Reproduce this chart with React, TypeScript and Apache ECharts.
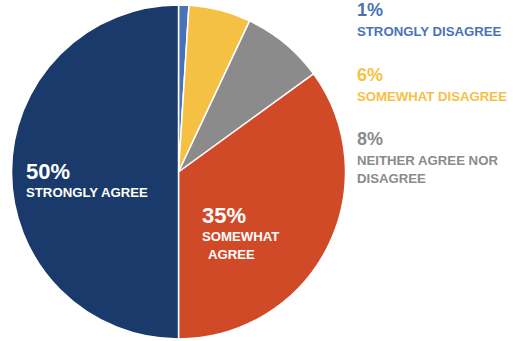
import React, { useEffect, useRef } from "react";
import * as echarts from "echarts";

const categories = ["STRONGLY DISAGREE", "SOMEWHAT DISAGREE", "NEITHER AGREE NOR\nDISAGREE", "SOMEWHAT\nAGREE", "STRONGLY AGREE"];
const values = [1, 6, 8, 35, 50];
const colors = ["#4a72b8", "#f5c144", "#8a8b8a", "#d04a27", "#1a3a6b"];
const labelColors = ["#4a72b8", "#f5c144", "#8a8b8a", "#ffffff", "#ffffff"];
const labelPos: [number, number][] = [[357, -3.4], [357, 61.6], [357, 125.6], [202, 203], [26, 159]];

export default function App() {
  const ref = useRef<HTMLDivElement>(null);
  useEffect(() => {
    document.body.style.margin = "0";
    const chart = echarts.init(ref.current!, null, { renderer: "svg" });
    chart.setOption({
      animation: false,
      backgroundColor: "#ffffff",
      series: [
        {
          type: "pie",
          center: [178.5, 172],
          radius: 167,
          startAngle: 90,
          clockwise: true,
          avoidLabelOverlap: false,
          itemStyle: { borderColor: "#ffffff", borderWidth: 1.5 },
          labelLine: { show: false },
          data: values.map((v, i) => {
            const inside = i >= 3;
            const lines = categories[i].split("\n");
            const body = lines
              .map((t, k) => (i === 3 && k === 1 ? `{i|${t}}` : `{l|${t}}`))
              .join("\n");
            return {
              value: v,
              name: categories[i],
              itemStyle: { color: colors[i] },
              label: {
                show: true,
                position: inside ? "inside" : "outside",
                formatter: `{p|${v}%}\n${body}`,
                rich: {
                  p: {
                    fontFamily: "Liberation Sans",
                    fontWeight: "bold",
                    fontSize: inside ? 22 : 18,
                    color: labelColors[i],
                    lineHeight: inside ? 24 : 26,
                  },
                  l: { fontFamily: "Liberation Sans", fontWeight: "bold", fontSize: 13.2, color: labelColors[i], lineHeight: 18 },
                  i: {
                    fontFamily: "Liberation Sans",
                    fontWeight: "bold",
                    fontSize: 13.2,
                    color: labelColors[i],
                    lineHeight: 18,
                    padding: [0, 0, 0, 6],
                  },
                },
                align: "left",
              },
            };
          }),
          labelLayout: (params: any) => ({
            x: labelPos[params.dataIndex][0],
            y: labelPos[params.dataIndex][1],
            align: "left",
            verticalAlign: "top",
          }),
        },
      ],
    });
    return () => chart.dispose();
  }, []);
  return <div ref={ref} style={{ width: 513, height: 341 }} />;
}
